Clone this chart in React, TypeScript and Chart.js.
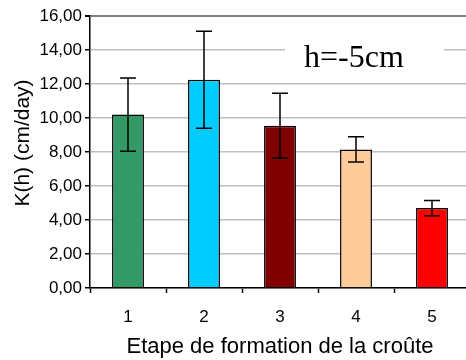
import React, { useEffect, useRef } from "react";
import { Chart, registerables } from "chart.js";

Chart.register(...registerables);

const categories = ["1", "2", "3", "4", "5"];
const values = [10.2, 12.25, 9.55, 8.15, 4.7];
const errors = [2.15, 2.85, 1.9, 0.74, 0.45];
const barColors = ["#339966", "#00CCFF", "#800000", "#FFCC99", "#FF0000"];
const yMin = 0;
const yMax = 16;
const yStep = 2;
const annotationText = "h=-5cm";
const xTitle = "Etape de formation de la croûte";
const yTitle = "K(h) (cm/day)";

const SANS = "'Liberation Sans', Arial, sans-serif";
const SERIF = "'Liberation Serif', 'Times New Roman', serif";

const errorBarPlugin = {
  id: "errorBars",
  afterDatasetsDraw(chart: any) {
    const meta = chart.getDatasetMeta(0);
    const y = chart.scales.y;
    const ctx = chart.ctx;
    ctx.save();
    ctx.strokeStyle = "#000";
    ctx.lineWidth = 1.5;
    meta.data.forEach((bar: any, i: number) => {
      const x = bar.x;
      const top = y.getPixelForValue(values[i] + errors[i]);
      const bot = y.getPixelForValue(values[i] - errors[i]);
      ctx.beginPath();
      ctx.moveTo(x, top);
      ctx.lineTo(x, bot);
      ctx.moveTo(x - 8, top);
      ctx.lineTo(x + 8, top);
      ctx.moveTo(x - 8, bot);
      ctx.lineTo(x + 8, bot);
      ctx.stroke();
    });
    ctx.restore();
  },
};

const annotationPlugin = {
  id: "annotationText",
  beforeDatasetsDraw(chart: any) {
    const ctx = chart.ctx;
    const a = chart.chartArea;
    ctx.save();
    ctx.fillStyle = "#fff";
    ctx.fillRect(a.left + 195, a.top + 16, 159, 44);
    ctx.fillStyle = "#000";
    ctx.font = `32px ${SERIF}`;
    ctx.textBaseline = "alphabetic";
    ctx.textAlign = "left";
    ctx.fillText(annotationText, a.left + 214, a.top + 51);
    ctx.restore();
  },
};

const yTitlePlugin = {
  id: "yTitle",
  afterDraw(chart: any) {
    const ctx = chart.ctx;
    const a = chart.chartArea;
    ctx.save();
    ctx.translate(23, (a.top + a.bottom) / 2 - 9);
    ctx.rotate(-Math.PI / 2);
    ctx.fillStyle = "#000";
    ctx.font = `21px ${SANS}`;
    ctx.textAlign = "center";
    ctx.textBaseline = "middle";
    ctx.fillText(yTitle, 0, 0);
    ctx.restore();
  },
};

export default function App() {
  const canvasRef = useRef<HTMLCanvasElement | null>(null);

  useEffect(() => {
    if (!canvasRef.current) return;
    const chart = new Chart(canvasRef.current, {
      type: "bar",
      data: {
        labels: categories,
        datasets: [
          {
            data: values,
            backgroundColor: barColors,
            borderColor: "#000",
            borderWidth: 1.5,
            barPercentage: 0.42,
            categoryPercentage: 1,
          },
        ],
      },
      options: {
        responsive: false,
        animation: false,
        layout: { padding: { top: 16, right: 0, left: 0, bottom: 0 } },
        plugins: {
          legend: { display: false },
          tooltip: { enabled: false },
        },
        scales: {
          x: {
            afterFit(scale: any) {
              scale.height = 72;
            },
            grid: {
              offset: true,
              drawOnChartArea: false,
              drawTicks: true,
              tickLength: 5,
              tickColor: "#000",
              tickWidth: 1.5,
            },
            border: { color: "#000", width: 1.5 },
            ticks: {
              color: "#000",
              font: { family: SANS, size: 17 },
              padding: 14,
            },
            title: {
              display: true,
              text: xTitle,
              color: "#000",
              font: { family: SANS, size: 22 },
              padding: { top: 1, bottom: 0 },
            },
          },
          y: {
            min: yMin,
            max: yMax,
            afterFit(scale: any) {
              scale.width = 90;
            },
            ticks: {
              stepSize: yStep,
              color: "#000",
              font: { family: SANS, size: 17 },
              padding: 3,
              callback: (v: any) => Number(v).toFixed(2).replace(".", ","),
            },
            grid: {
              color: (c: any) => (c.tick && c.tick.value === yMax ? "#808080" : "#c0c0c0"),
              lineWidth: (c: any) => (c.tick && c.tick.value === yMax ? 2 : 1.5),
              tickColor: "#000",
              tickLength: 5,
            },
            border: { color: "#000", width: 1.5 },
            title: { display: false },
          },
        },
      },
      plugins: [annotationPlugin, errorBarPlugin, yTitlePlugin],
    });
    return () => chart.destroy();
  }, []);

  return (
    <div
      style={{
        position: "fixed",
        left: 0,
        top: 0,
        width: 466,
        height: 360,
        overflow: "hidden",
        background: "#fff",
      }}
    >
      <canvas ref={canvasRef} width={470} height={360} style={{ display: "block" }} />
    </div>
  );
}
